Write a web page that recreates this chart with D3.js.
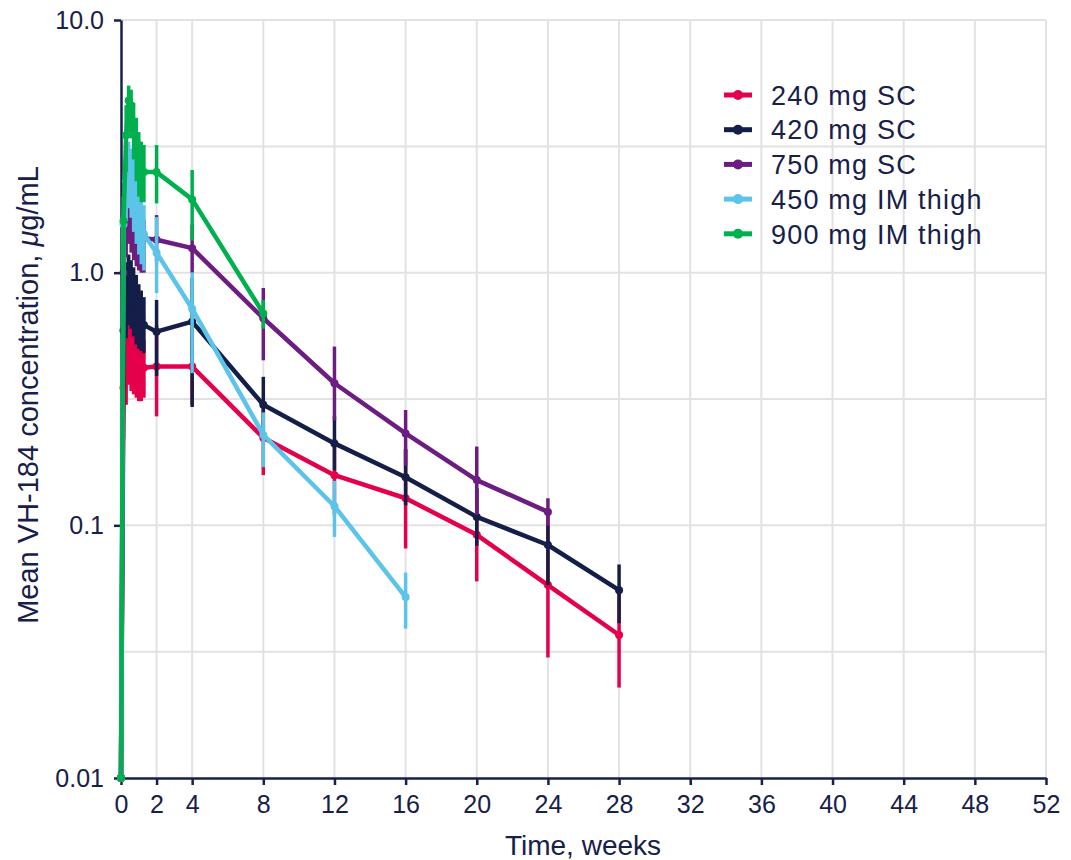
<!DOCTYPE html>
<html>
<head>
<meta charset="utf-8">
<script src="https://cdn.jsdelivr.net/npm/d3@7"></script>
<style>
body { margin: 0; background: #fff; }
text { font-family: "Liberation Sans", Arial, sans-serif; fill: #17204a; }
</style>
</head>
<body>
<svg id="chart" width="1071" height="860"></svg>
<script>

// time points in weeks (daily over the first 9 days)
var weeks = [0, 0.14, 0.29, 0.43, 0.57, 0.71, 0.86, 1, 1.14, 1.29, 2, 4, 8, 12, 16, 20, 24, 28];

var seriesNames = ['240 mg SC', '420 mg SC', '750 mg SC', '450 mg IM thigh', '900 mg IM thigh'];
var seriesColors = ['#e4004b', '#151e48', '#6c1d82', '#5bc4e8', '#00b04f'];

var mean240 = [0.01, 0.35, 0.5, 0.6, 0.56, 0.5, 0.46, 0.44, 0.43, 0.42, 0.425, 0.425, 0.222, 0.158, 0.128, 0.0917, 0.058, 0.0368];
var lo240   = [0.01, 0.22, 0.3, 0.36, 0.34, 0.33, 0.32, 0.31, 0.31, 0.32, 0.27, 0.3, 0.158, 0.11, 0.081, 0.06, 0.03, 0.0228];
var hi240   = [0.01, 0.5, 0.64, 0.68, 0.66, 0.62, 0.58, 0.56, 0.55, 0.54, 0.62, 0.6, 0.3, 0.22, 0.2, 0.14, 0.11, 0.055];

var mean420 = [0.01, 0.59, 0.85, 0.98, 0.92, 0.84, 0.76, 0.7, 0.66, 0.62, 0.584, 0.64, 0.30, 0.211, 0.155, 0.108, 0.0836, 0.0554];
var lo420   = [0.01, 0.45, 0.55, 0.62, 0.6, 0.56, 0.52, 0.5, 0.49, 0.48, 0.39, 0.294, 0.22, 0.165, 0.12, 0.083, 0.058, 0.041];
var hi420   = [0.01, 0.75, 1.1, 1.18, 1.12, 1.05, 0.98, 0.9, 0.85, 0.8, 0.78, 0.95, 0.387, 0.27, 0.2, 0.14, 0.1, 0.07];

var mean750 = [0.01, 1.0, 1.6, 1.9, 1.8, 1.65, 1.55, 1.45, 1.4, 1.37, 1.35, 1.25, 0.66, 0.365, 0.231, 0.151, 0.113];
var lo750   = [0.01, 0.8, 1.15, 1.3, 1.2, 1.12, 1.06, 1.02, 1.0, 1.0, 1.1, 1.0, 0.45, 0.26, 0.172, 0.11, 0.1];
var hi750   = [0.01, 1.2, 2.0, 2.2, 2.1, 1.95, 1.85, 1.75, 1.68, 1.62, 1.69, 1.55, 0.87, 0.51, 0.286, 0.205, 0.128];

var mean450 = [0.01, 1.55, 2.3, 2.6, 2.4, 2.1, 1.85, 1.65, 1.5, 1.42, 1.2, 0.72, 0.228, 0.119, 0.052];
var lo450   = [0.01, 1.2, 1.6, 1.8, 1.65, 1.45, 1.3, 1.18, 1.08, 1.02, 0.83, 0.4, 0.17, 0.09, 0.039];
var hi450   = [0.01, 2.0, 3.0, 3.3, 3.1, 2.8, 2.5, 2.2, 2.0, 1.85, 1.66, 1.0, 0.28, 0.15, 0.065];

var mean900 = [0.01, 1.6, 3.5, 4.8, 4.6, 3.9, 3.3, 2.8, 2.6, 2.5, 2.5, 1.95, 0.69];
var lo900   = [0.01, 1.2, 2.5, 3.6, 3.4, 2.8, 2.3, 2.0, 1.9, 1.9, 1.88, 1.34, 0.6];
var hi900   = [0.01, 2.0, 4.6, 5.5, 5.3, 4.7, 4.1, 3.6, 3.3, 3.2, 3.2, 2.55, 0.78];

var xTicks = [0, 2, 4, 8, 12, 16, 20, 24, 28, 32, 36, 40, 44, 48, 52];
var yTicks = [0.01, 0.1, 1, 10];
var yTickLabels = ['0.01', '0.1', '1.0', '10.0'];
var yGrid = [0.0316, 0.1, 0.316, 1, 3.16, 10];

var allMeans = [mean240, mean420, mean750, mean450, mean900];
var allLo = [lo240, lo420, lo750, lo450, lo900];
var allHi = [hi240, hi420, hi750, hi450, hi900];

var svg = d3.select('#chart');
var navy = '#17204a';

var x = d3.scaleLinear().domain([0, 52]).range([121, 1046]);
var y = d3.scaleLog().domain([0.01, 10]).range([778, 20]);

// grid
svg.append('g').selectAll('line')
   .data(xTicks.slice(1))
   .enter().append('line')
   .attr('x1', function (d) { return x(d); })
   .attr('x2', function (d) { return x(d); })
   .attr('y1', y(10)).attr('y2', y(0.01))
   .attr('stroke', '#e2e2e2').attr('stroke-width', 2);

svg.append('g').selectAll('line')
   .data(yGrid)
   .enter().append('line')
   .attr('x1', x(0)).attr('x2', x(52))
   .attr('y1', function (d) { return y(d); })
   .attr('y2', function (d) { return y(d); })
   .attr('stroke', '#e2e2e2').attr('stroke-width', 2);

// axes
var yAxis = svg.append('g')
   .attr('transform', 'translate(' + x(0) + ',0)')
   .call(d3.axisLeft(y).tickValues(yTicks).tickSize(7).tickPadding(10).tickSizeOuter(0)
      .tickFormat(function (d, i) { return yTickLabels[i]; }));

var xAxis = svg.append('g')
   .attr('transform', 'translate(0,' + y(0.01) + ')')
   .call(d3.axisBottom(x).tickValues(xTicks).tickSize(7).tickPadding(10).tickSizeOuter(0));

[yAxis, xAxis].forEach(function (a) {
   a.select('.domain').attr('stroke', navy).attr('stroke-width', 2.5);
   a.selectAll('.tick line').attr('stroke', navy).attr('stroke-width', 2.5);
   a.selectAll('.tick text').attr('font-size', 25).attr('font-family', null).attr('fill', navy);
});

// series
var line = d3.line()
   .x(function (d) { return x(d.t); })
   .y(function (d) { return y(d.v); });

allMeans.forEach(function (means, s) {
   var pts = means.map(function (v, i) {
      return { t: weeks[i], v: v, lo: allLo[s][i], hi: allHi[s][i] };
   });
   var g = svg.append('g');

   g.selectAll('line.err')
      .data(pts)
      .enter().append('line')
      .attr('class', 'err')
      .attr('x1', function (d) { return x(d.t); })
      .attr('x2', function (d) { return x(d.t); })
      .attr('y1', function (d) { return y(d.lo); })
      .attr('y2', function (d) { return y(d.hi); })
      .attr('stroke', seriesColors[s])
      .attr('stroke-width', 3.5);

   g.append('path')
      .datum(pts)
      .attr('d', line)
      .attr('fill', 'none')
      .attr('stroke', seriesColors[s])
      .attr('stroke-width', 4.5)
      .attr('stroke-linejoin', 'round');

   g.selectAll('circle')
      .data(pts)
      .enter().append('circle')
      .attr('cx', function (d) { return x(d.t); })
      .attr('cy', function (d) { return y(d.v); })
      .attr('r', 4)
      .attr('fill', seriesColors[s]);
});

// axis titles
svg.append('text')
   .attr('transform', 'translate(38,395) rotate(-90)')
   .attr('text-anchor', 'middle')
   .attr('font-size', 29)
   .text('Mean VH-184 concentration, ')
   .append('tspan').attr('font-style', 'italic').text('\u03bc')
   .select(function () { return this.parentNode; })
   .append('tspan').text('g/mL');

svg.append('text')
   .attr('x', 583).attr('y', 855)
   .attr('text-anchor', 'middle')
   .attr('font-size', 28)
   .text('Time, weeks');

// legend
var legend = svg.append('g').selectAll('g')
   .data(seriesNames)
   .enter().append('g')
   .attr('transform', function (d, i) { return 'translate(724,' + (95 + i * 34.7) + ')'; });

legend.append('line')
   .attr('x1', 0).attr('x2', 28)
   .attr('stroke', function (d, i) { return seriesColors[i]; })
   .attr('stroke-width', 5);

legend.append('circle')
   .attr('cx', 14).attr('r', 5)
   .attr('fill', function (d, i) { return seriesColors[i]; });

legend.append('text')
   .attr('x', 47).attr('dy', '0.36em')
   .attr('font-size', 27)
   .attr('letter-spacing', 1.2)
   .text(function (d) { return d; });

</script>
</body>
</html>
